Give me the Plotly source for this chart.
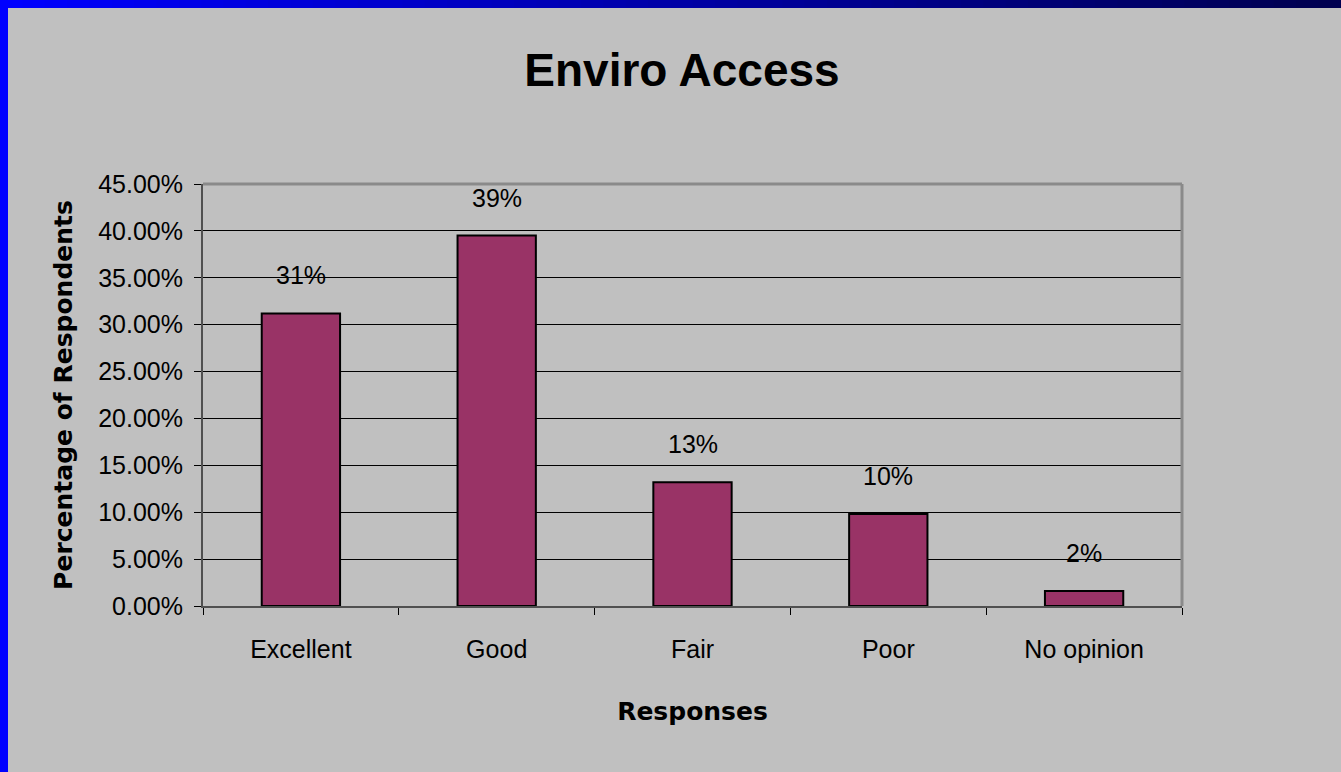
import plotly.graph_objects as go

categories = ["Excellent", "Good", "Fair", "Poor", "No opinion"]
values = [0.312, 0.395, 0.132, 0.098, 0.016]
labels = ["31%", "39%", "13%", "10%", "2%"]

W, H = 1341, 772
L, R, T, B = 203, 159, 184, 166
pw, ph = W - L - R, H - T - B

def px_x(p):
    return (p - L) / pw

def px_y(p):
    return (H - B - p) / ph

fig = go.Figure()
fig.add_trace(go.Bar(
    x=categories, y=values, width=0.4,
    marker=dict(color="#993366", line=dict(color="#000000", width=2)),
    hoverinfo="skip",
))

annotations = []
for c, v, t in zip(categories, values, labels):
    annotations.append(dict(x=c, y=v, text=t, showarrow=False, yshift=38,
                            xref="x", yref="y",
                            font=dict(family="Liberation Sans, Arial", size=25, color="#000000")))

shapes = []
# left blue border
shapes.append(dict(type="rect", xref="paper", yref="paper", layer="above",
                   x0=px_x(0), x1=px_x(8), y0=px_y(H), y1=px_y(0),
                   fillcolor="#0000FF", line=dict(width=0)))
# top gradient bar
n = 60
c0 = (0, 0, 255)
c1 = (0, 0, 80)
for i in range(n):
    f = i / (n - 1)
    col = "rgb({},{},{})".format(int(c0[0] + (c1[0] - c0[0]) * f),
                                 int(c0[1] + (c1[1] - c0[1]) * f),
                                 int(c0[2] + (c1[2] - c0[2]) * f))
    xa = W * i / n
    xb = W * (i + 1) / n + 1
    shapes.append(dict(type="rect", xref="paper", yref="paper", layer="above",
                       x0=px_x(xa), x1=px_x(xb), y0=px_y(8), y1=px_y(0),
                       fillcolor=col, line=dict(width=0)))
# top and right plot border (lighter gray)
shapes.append(dict(type="line", xref="paper", yref="paper", x0=0, x1=1, y0=1, y1=1,
                   line=dict(color="#8a8a8a", width=3)))
shapes.append(dict(type="line", xref="paper", yref="paper", x0=1, x1=1, y0=0, y1=1,
                   line=dict(color="#8a8a8a", width=3)))

fig.update_layout(
    width=W, height=H,
    margin=dict(l=L, r=R, t=T, b=B),
    paper_bgcolor="#C0C0C0", plot_bgcolor="#C0C0C0",
    showlegend=False,
    bargap=0.6,
    title=dict(text="<b>Enviro Access</b>", xref="container", yref="container",
               x=682 / W, y=1 - 70 / H, xanchor="center", yanchor="middle",
               font=dict(family="Liberation Sans, Arial", size=46, color="#000000")),
    xaxis=dict(
        showline=True, linecolor="#505050", linewidth=2,
        ticks="outside", tickson="boundaries", ticklen=7, tickcolor="#000000",
        tickfont=dict(family="Liberation Sans, Arial", size=25, color="#000000"),
        ticklabelstandoff=20,
        title=dict(text="<b>Responses</b>", standoff=40,
                   font=dict(family="DejaVu Sans", size=25, color="#000000")),
        showgrid=False,
    ),
    yaxis=dict(
        range=[0, 0.45], dtick=0.05, tickformat=".2%",
        showline=True, linecolor="#505050", linewidth=2,
        ticks="outside", ticklen=7, tickcolor="#000000",
        tickfont=dict(family="Liberation Sans, Arial", size=25, color="#000000"),
        ticklabelstandoff=6,
        showgrid=True, gridcolor="#000000", gridwidth=1,
        zeroline=False,
        title=dict(text="<b>Percentage of Respondents</b>", standoff=18,
                   font=dict(family="DejaVu Sans", size=25, color="#000000")),
    ),
    annotations=annotations,
    shapes=shapes,
)

fig.write_html("out.html", config={"displayModeBar": False},
               post_script="document.body.style.margin='0';document.body.style.overflow='hidden';")
